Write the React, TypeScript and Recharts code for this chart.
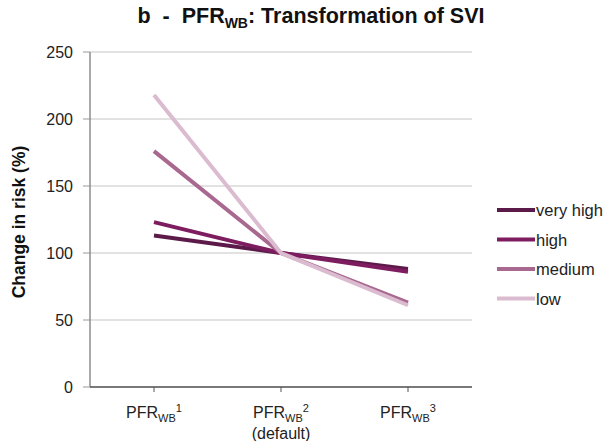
import React from 'react';
import { LineChart, Line, XAxis, YAxis, CartesianGrid } from 'recharts';

const categories = ['1', '2', '3'];
const veryHigh = [113, 100, 88];
const high = [123, 100, 86];
const medium = [176, 100, 63];
const low = [218, 100, 61];
const yTicks = [0, 50, 100, 150, 200, 250];

const data = categories.map((c, i) => ({
  name: c,
  veryHigh: veryHigh[i],
  high: high[i],
  medium: medium[i],
  low: low[i],
}));

const series = [
  { key: 'veryHigh', name: 'very high', color: '#5c1a4a' },
  { key: 'high', name: 'high', color: '#7e1c60' },
  { key: 'medium', name: 'medium', color: '#a8688f' },
  { key: 'low', name: 'low', color: '#dbbbcf' },
];

const FONT = '"Liberation Sans", Arial, sans-serif';

const XTick = (props: any) => {
  const { x, y, payload } = props;
  return (
    <g transform={`translate(${x},${y})`}>
      <text x={0} y={24} textAnchor="middle" fontSize={16} fill="#222" fontFamily={FONT}>
        PFR
        <tspan fontSize={11} dy={4}>WB</tspan>
        <tspan fontSize={11} dy={-10}>{payload.value}</tspan>
      </text>
      {payload.value === '2' && (
        <text x={0} y={45} textAnchor="middle" fontSize={16} fill="#222" fontFamily={FONT}>
          (default)
        </text>
      )}
    </g>
  );
};

// legend drawn beside the plot
const LegendBox = () => (
  <svg width={110} height={110} style={{ position: 'absolute', left: 497, top: 200 }}>
    {series.map((s, i) => (
      <g key={s.key} transform={`translate(0,${i * 29.5 + 10})`}>
        <line x1={0} y1={0} x2={38} y2={0} stroke={s.color} strokeWidth={4} />
        <text x={39} y={6} fontSize={16.5} fill="#222" fontFamily={FONT}>{s.name}</text>
      </g>
    ))}
  </svg>
);

export default function App() {
  return (
    <div style={{ position: 'absolute', left: 0, top: 0, width: 607, height: 441, background: '#fff', fontFamily: FONT }}>
      <div style={{ position: 'absolute', left: 0, top: 4, width: 622, textAlign: 'center', fontSize: 21.5, fontWeight: 'bold', color: '#111' }}>
        b&nbsp; -&nbsp; PFR<sub style={{ fontSize: 14 }}>WB</sub>: Transformation of SVI
      </div>
      <div style={{ position: 'absolute', left: 19, top: 222, transform: 'translate(-50%,-50%) rotate(-90deg)', whiteSpace: 'nowrap', fontSize: 17.5, fontWeight: 'bold', color: '#111' }}>
        Change in risk (%)
      </div>
      <LineChart width={607} height={441} data={data} margin={{ top: 52, right: 135, bottom: 9, left: 30 }}>
        <CartesianGrid vertical={false} stroke="#d9d9d9" strokeWidth={1.5} />
        <XAxis
          dataKey="name"
          padding={{ left: 64, right: 64 }}
          height={45}
          stroke="#111"
          tickLine={{ stroke: '#555' }}
          tickSize={5}
          tick={<XTick />}
          interval={0}
        />
        <YAxis
          domain={[0, 250]}
          ticks={yTicks}
          width={60}
          stroke="#555"
          tickLine={{ stroke: '#999' }}
          tickSize={7}
          tickMargin={10}
          tick={{ fontSize: 16, fill: '#222', fontFamily: FONT }}
          interval={0}
        />
        {series.map((s) => (
          <Line
            key={s.key}
            dataKey={s.key}
            name={s.name}
            stroke={s.color}
            strokeWidth={4}
            dot={false}
            type="linear"
            isAnimationActive={false}
          />
        ))}
      </LineChart>
      <LegendBox />
    </div>
  );
}
